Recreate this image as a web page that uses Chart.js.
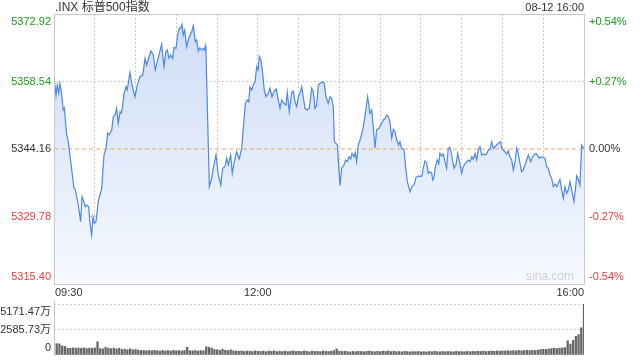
<!DOCTYPE html>
<html><head><meta charset="utf-8">
<script src="https://cdn.jsdelivr.net/npm/chart.js@4.4.1/dist/chart.umd.min.js"></script>
<style>
html,body{margin:0;padding:0;background:#fff;width:640px;height:360px;overflow:hidden}
#main{position:absolute;left:0;top:0}
#vol{position:absolute;left:0;top:300px}
</style></head><body>
<canvas id="main" width="640" height="300"></canvas>
<canvas id="vol" width="640" height="60"></canvas>
<script>
const titleText = '.INX 标普500指数';
const stampText = '08-12 16:00';
const watermark = 'sina.com';
const prevClose = 5344.16;
const priceTicks = [5315.40, 5329.78, 5344.16, 5358.54, 5372.92];
const pctLabels = ['-0.54%', '-0.27%', '0.00%', '+0.27%', '+0.54%'];
const gridMinutes = [0, 30, 60, 90, 120, 150, 180, 210, 240, 270, 300, 330, 360, 390];
const timeLabelMinutes = [0, 150, 390];
const timeLabels = ['09:30', '12:00', '16:00'];
const volTicks = [0, 2585.73, 5171.47];
const volLabels = ['0', '2585.73万', '5171.47万'];

const lineMinutes = [0,1.5,2.4,3.5,4.4,5.4,6.8,7.6,9.3,10.5,12.3,14.7,15.7,17.9,19.6,20.6,21.6,23.0,24.1,25.5,26.5,27.7,28.7,29.7,30.9,32.6,33.8,35.1,36.8,38.3,39.5,40.7,42.5,43.6,44.9,46.1,47.3,48.6,49.5,50.6,51.5,53.0,53.9,55.9,57.4,59.6,61.3,63.3,65.3,67.0,68.2,69.9,71.4,73.1,74.5,76.0,77.5,79.2,80.9,82.4,83.4,84.6,85.9,87.3,88.3,89.8,91.0,92.2,93.4,94.2,95.1,96.2,97.6,98.8,100.1,101.3,102.5,104.0,105.0,106.2,107.4,108.7,109.9,110.9,111.3,111.8,114.3,116.0,117.2,119.2,120.9,122.7,124.1,125.8,127.1,128.3,130.0,131.2,132.7,134.4,136.3,138.1,139.3,140.8,142.2,143.3,144.2,145.5,146.6,147.9,149.2,150.1,151.1,152.3,153.6,154.7,156.0,157.7,158.9,160.4,161.9,163.4,164.6,166.3,167.5,169.2,170.7,171.7,173.1,174.9,176.1,177.3,178.6,179.8,181.0,182.3,183.4,184.7,186.4,187.9,189.6,190.8,192.1,193.3,194.5,195.7,197.7,198.9,200.1,201.8,203.1,204.3,205.5,206.3,207.5,208.5,210.4,211.7,213.4,214.6,215.8,217.1,218.3,219.3,220.7,221.7,222.7,223.9,225.2,227.1,228.8,230.8,232.5,233.8,234.9,236.2,237.4,239.1,241.1,242.3,243.8,244.8,246.0,247.2,248.5,249.7,250.9,252.2,253.6,254.6,255.8,257.5,259.0,260.0,262.0,263.4,265.1,266.4,268.1,269.3,270.8,271.7,273.0,274.2,275.4,276.7,277.9,278.7,279.6,280.6,282.0,283.1,284.0,285.3,286.5,287.7,288.9,290.1,291.4,292.6,294.3,295.8,297.1,298.7,300.0,301.2,302.6,303.7,304.9,306.1,307.4,308.5,309.8,311.0,312.2,313.5,314.7,315.9,317.1,318.4,319.6,320.8,322.1,323.2,324.5,325.7,326.9,328.7,329.4,330.6,331.8,333.1,334.3,335.5,336.8,338.0,339.2,340.5,341.6,342.9,344.1,345.3,346.6,347.8,349.0,350.8,351.7,353.2,354.7,357.1,358.9,361.3,362.5,363.7,365.0,366.2,367.4,368.6,369.9,371.1,372.3,373.6,374.8,376.0,377.3,378.4,379.7,380.9,382.6,383.9,384.6,385.8,387.0,388.3,389.5,390];
const linePrices = [5359.56,5355.66,5357.79,5356.02,5358.15,5356.36,5352.47,5352.89,5347.14,5345.71,5341.45,5335.78,5335.50,5332.23,5328.67,5334.00,5333.29,5331.86,5332.23,5331.86,5328.33,5325.84,5329.73,5328.33,5328.67,5332.93,5334.36,5335.78,5342.88,5344.31,5347.50,5347.20,5348.20,5351.04,5351.40,5352.83,5349.63,5352.10,5351.76,5353.53,5356.02,5357.43,5356.73,5360.50,5357.79,5355.30,5357.79,5359.56,5359.92,5363.48,5362.05,5363.82,5365.03,5364.18,5360.99,5362.76,5364.55,5366.46,5361.69,5364.89,5365.25,5363.48,5364.18,5363.48,5365.82,5365.61,5368.44,5369.87,5370.00,5370.72,5368.44,5369.51,5365.95,5367.38,5368.44,5369.15,5370.42,5367.02,5367.38,5365.03,5365.74,5365.25,5365.61,5365.25,5366.16,5365.25,5336.13,5337.91,5340.05,5342.88,5338.62,5336.49,5340.05,5340.39,5342.18,5340.75,5342.88,5338.98,5341.45,5343.58,5342.03,5344.31,5348.57,5353.89,5354.60,5354.23,5357.43,5356.73,5357.79,5358.49,5361.69,5360.99,5363.82,5363.12,5360.28,5356.73,5355.30,5356.02,5357.09,5355.30,5356.36,5356.94,5355.30,5352.83,5354.60,5353.89,5353.53,5356.24,5352.10,5356.24,5356.51,5354.23,5353.17,5355.30,5356.02,5357.43,5355.30,5352.83,5352.47,5352.83,5357.09,5356.36,5352.83,5353.53,5357.79,5358.15,5358.49,5358.15,5355.30,5353.89,5355.30,5354.96,5353.17,5345.71,5345.37,5345.10,5336.34,5340.05,5340.75,5341.81,5341.45,5342.52,5342.03,5343.24,5342.52,5343.37,5341.45,5345.01,5346.07,5348.20,5351.04,5355.30,5351.76,5352.47,5348.91,5344.31,5348.20,5348.57,5349.63,5350.34,5350.70,5351.40,5351.04,5349.97,5346.44,5348.35,5347.84,5346.07,5345.01,5345.71,5344.31,5344.00,5339.68,5337.19,5335.06,5336.13,5336.64,5338.13,5338.40,5338.26,5338.40,5340.05,5341.66,5341.24,5338.98,5339.32,5338.98,5337.55,5338.13,5340.39,5341.81,5340.96,5343.24,5342.67,5343.09,5341.45,5340.05,5344.31,5344.52,5342.88,5340.05,5340.75,5343.24,5340.96,5338.98,5340.39,5341.11,5341.45,5341.81,5341.45,5342.52,5341.96,5343.24,5341.81,5343.94,5344.65,5342.88,5343.09,5342.88,5343.09,5343.94,5344.09,5345.71,5344.31,5344.65,5345.01,5345.37,5345.71,5344.31,5343.94,5343.58,5343.09,5343.79,5342.52,5341.81,5339.68,5341.24,5344.31,5343.24,5341.11,5339.32,5339.68,5340.75,5341.81,5342.88,5341.45,5342.18,5342.88,5343.24,5342.18,5342.52,5342.18,5340.39,5340.05,5338.62,5337.91,5336.13,5336.70,5336.13,5336.85,5337.70,5335.42,5333.65,5336.13,5334.72,5335.42,5337.19,5335.42,5332.93,5336.13,5338.41,5337.70,5336.49,5345.01,5344.31,5344.50];

const volMinutes = [0,2,4,6,8,10,12,14,16,18,20,22,24,26,28,30,32,34,36,38,40,42,44,46,48,50,52,54,56,58,60,62,64,66,68,70,72,74,76,78,80,82,84,86,88,90,92,94,96,98,100,102,104,106,108,110,112,114,116,118,120,122,124,126,128,130,132,134,136,138,140,142,144,146,148,150,152,154,156,158,160,162,164,166,168,170,172,174,176,178,180,182,184,186,188,190,192,194,196,198,200,202,204,206,208,210,212,214,216,218,220,222,224,226,228,230,232,234,236,238,240,242,244,246,248,250,252,254,256,258,260,262,264,266,268,270,272,274,276,278,280,282,284,286,288,290,292,294,296,298,300,302,304,306,308,310,312,314,316,318,320,322,324,326,328,330,332,334,336,338,340,342,344,346,348,350,352,354,356,358,360,362,364,366,368,370,372,374,376,378,380,382,384,386,388,390];
const volValues = [1100,1150,1120,920,880,700,680,720,690,700,680,720,650,700,680,720,1340,650,620,780,700,650,700,620,680,560,600,540,620,520,560,500,450,470,430,460,420,480,440,400,460,420,450,400,470,430,450,410,460,790,440,420,460,410,450,430,830,780,700,560,520,470,600,480,450,520,430,400,380,420,360,410,390,350,420,380,360,400,340,410,370,420,350,390,360,400,340,380,420,360,390,350,410,370,330,400,360,380,340,410,370,350,390,450,620,400,360,380,340,320,360,340,380,350,330,370,400,350,330,370,340,390,360,410,350,380,340,360,320,370,340,310,350,330,360,320,340,310,350,330,380,340,320,350,330,360,340,320,370,340,350,330,360,340,370,350,380,360,390,350,370,400,380,410,390,420,400,430,410,440,420,460,430,450,470,440,480,460,500,560,590,560,610,650,690,660,700,720,750,1450,1100,1480,1890,2070,2760,5171.47];

const FONT = '"Liberation Sans", Arial, "Noto Sans CJK SC", sans-serif';
const GREEN = '#1a9f1a', RED = '#f03c3c', DARK = '#333333', GRID = '#cccccc';

function txt(ctx, s, x, y, color, align, size) {
  ctx.save();
  ctx.font = (size || 11) + 'px ' + FONT;
  ctx.fillStyle = color;
  ctx.textAlign = align;
  ctx.textBaseline = 'middle';
  ctx.fillText(s, x, y);
  ctx.restore();
}

const mainDeco = {
  id: 'mainDeco',
  afterDraw(chart) {
    const ctx = chart.ctx, a = chart.chartArea;
    const ys = chart.scales.y, xs = chart.scales.x;
    ctx.save();
    ctx.strokeStyle = '#c8c8c8'; ctx.lineWidth = 1;
    ctx.strokeRect(Math.round(a.left) + 0.5, Math.round(a.top) + 0.5, Math.round(a.right - a.left), Math.round(a.bottom - a.top));
    ctx.restore();
    priceTicks.forEach((v, i) => {
      let y = ys.getPixelForValue(v);
      y = Math.max(a.top + 8, Math.min(a.bottom - 7, y));
      const c = v > prevClose + 0.001 ? GREEN : (v < prevClose - 0.001 ? RED : DARK);
      txt(ctx, v.toFixed(2), a.left - 3, y, c, 'right');
      txt(ctx, pctLabels[i], a.right + 5, y, c, 'left');
    });
    timeLabelMinutes.forEach((m, i) => {
      const x = xs.getPixelForValue(m);
      const align = i === 0 ? 'left' : (i === timeLabelMinutes.length - 1 ? 'right' : 'center');
      txt(ctx, timeLabels[i], i === 0 ? x + 1 : x, a.bottom + 9, DARK, align);
    });
    txt(ctx, titleText, a.left + 1, 8, DARK, 'left', 12);
    txt(ctx, stampText, a.right, 8, DARK, 'right', 11);
    txt(ctx, watermark, a.right - 10, a.bottom - 7, '#cfcfcf', 'right', 12);
  }
};

const volDeco = {
  id: 'volDeco',
  afterDraw(chart) {
    const ctx = chart.ctx, a = chart.chartArea;
    const ys = chart.scales.y;
    ctx.save();
    ctx.strokeStyle = '#c8c8c8'; ctx.lineWidth = 1;
    ctx.beginPath();
    ctx.moveTo(Math.round(a.left) + 0.5, 0);
    ctx.lineTo(Math.round(a.left) + 0.5, a.bottom + 1);
    ctx.stroke();
    ctx.restore();
    volTicks.forEach((v, i) => {
      let y = ys.getPixelForValue(v);
      y = Math.max(a.top + 8, Math.min(a.bottom - 7, y));
      txt(ctx, volLabels[i], a.left - 3, y, DARK, 'right');
    });
  }
};

const mainCanvas = document.getElementById('main');
new Chart(mainCanvas, {
  type: 'line',
  data: {
    datasets: [
      {
        data: lineMinutes.map((m, i) => ({ x: m, y: linePrices[i] })),
        borderColor: '#4d88e8',
        borderWidth: 1.2,
        pointRadius: 0,
        tension: 0,
        fill: 'start',
        backgroundColor: (c) => {
          const ch = c.chart, a = ch.chartArea;
          if (!a) return 'rgba(210,225,248,0.8)';
          const g = ch.ctx.createLinearGradient(0, a.top, 0, a.bottom);
          g.addColorStop(0, '#cddcf6');
          g.addColorStop(1, '#f6f9fe');
          return g;
        }
      },
      {
        data: [{ x: 0, y: prevClose }, { x: 390, y: prevClose }],
        borderColor: '#f0a468',
        borderWidth: 1,
        borderDash: [4, 3],
        pointRadius: 0,
        fill: false
      }
    ]
  },
  options: {
    responsive: false,
    animation: false,
    devicePixelRatio: 1,
    layout: { padding: { left: 54, right: 56, top: 14, bottom: 16 } },
    plugins: { legend: { display: false }, tooltip: { enabled: false }, filler: { drawTime: 'beforeDatasetsDraw' } },
    scales: {
      x: {
        type: 'linear', min: 0, max: 390, offset: false,
        afterBuildTicks: (s) => { s.ticks = gridMinutes.map(v => ({ value: v })); },
        afterFit: (s) => { s.height = 0; },
        ticks: { display: false },
        grid: { drawTicks: false, lineWidth: 1, color: (c) => (c.tick && (c.tick.value === 0 || c.tick.value === 390)) ? 'rgba(0,0,0,0)' : GRID },
        border: { display: false, dash: [2, 2] }
      },
      y: {
        min: 5315.40, max: 5372.92,
        afterBuildTicks: (s) => { s.ticks = priceTicks.map(v => ({ value: v })); },
        afterFit: (s) => { s.width = 0; },
        ticks: { display: false },
        grid: { drawTicks: false, lineWidth: 1, color: (c) => (c.tick && (c.tick.value === 5315.40 || c.tick.value === 5372.92 || c.tick.value === prevClose)) ? 'rgba(0,0,0,0)' : GRID },
        border: { display: false, dash: [2, 2] }
      }
    }
  },
  plugins: [mainDeco]
});

const volCanvas = document.getElementById('vol');
new Chart(volCanvas, {
  type: 'bar',
  data: {
    datasets: [{
      data: volMinutes.map((m, i) => ({ x: m, y: volValues[i] })),
      backgroundColor: '#666666',
      borderWidth: 0,
      barThickness: 1.6
    }]
  },
  options: {
    responsive: false,
    animation: false,
    devicePixelRatio: 1,
    layout: { padding: { left: 54, right: 56, top: 4, bottom: 5 } },
    plugins: { legend: { display: false }, tooltip: { enabled: false } },
    scales: {
      x: {
        type: 'linear', min: 0, max: 390, offset: false,
        afterFit: (s) => { s.height = 0; },
        ticks: { display: false },
        grid: { display: false },
        border: { display: false }
      },
      y: {
        min: 0, max: 5171.47,
        afterBuildTicks: (s) => { s.ticks = volTicks.map(v => ({ value: v })); },
        afterFit: (s) => { s.width = 0; },
        ticks: { display: false },
        grid: { drawTicks: false, lineWidth: 1, color: (c) => (c.tick && c.tick.value === 0) ? 'rgba(0,0,0,0)' : GRID },
        border: { display: false, dash: [2, 2] }
      }
    }
  },
  plugins: [volDeco]
});
</script>
</body></html>
